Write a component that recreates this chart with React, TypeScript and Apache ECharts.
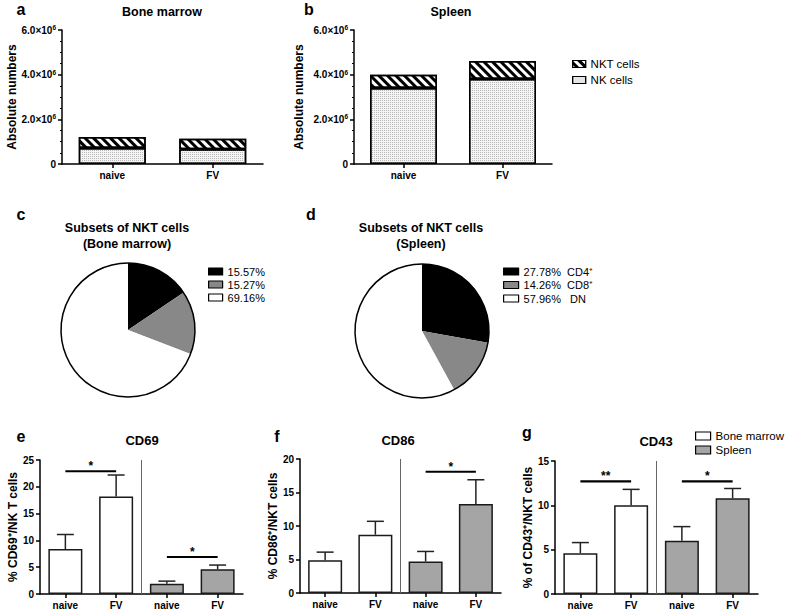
import React, { useEffect, useRef } from 'react';
import * as echarts from 'echarts';

const FONT = '"Liberation Sans", Arial, Helvetica, sans-serif';

// ---- Panels a / b : absolute numbers ----
const groupCats = ['naive', 'FV'];
const bmNK = [0.72e6, 0.66e6];
const bmNKT = [0.49e6, 0.47e6];
const spNK = [3.4e6, 3.81e6];
const spNKT = [0.6e6, 0.8e6];
const absTicks = { min: 0, max: 6e6, interval: 2e6 };

// ---- Panels c / d : NKT subsets ----
const subsetLabelsBM = ['15.57%', '15.27%', '69.16%'];
const subsetValuesBM = [15.57, 15.27, 69.16];
const subsetLabelsSP = ['27.78%  CD4⁺', '14.26%  CD8⁺', '57.96%   DN'];
const subsetValuesSP = [27.78, 14.26, 57.96];
const subsetColors = ['#000000', '#888888', '#ffffff'];

// ---- Panels e / f / g : activation markers ----
const markerCats = ['naive', 'FV', 'naive', 'FV'];
const cd69BM = [8.4, 18.2];
const cd69BMErr = [2.7, 4.0];
const cd69SP = [1.9, 4.6];
const cd69SPErr = [0.5, 0.8];
const cd69Sig = [[0, 1, 22.9, 1], [2, 3, 6.9, 1]];

const cd86BM = [4.9, 8.7];
const cd86BMErr = [1.2, 2.0];
const cd86SP = [4.7, 13.3];
const cd86SPErr = [1.5, 3.6];
const cd86Sig = [[2, 3, 18.1, 1]];

const cd43BM = [4.6, 10.0];
const cd43BMErr = [1.2, 1.8];
const cd43SP = [6.0, 10.8];
const cd43SPErr = [1.6, 1.1];
const cd43Sig = [[0, 1, 12.7, 2], [2, 3, 12.7, 1]];

const stripeDecal = {
  symbol: 'rect',
  symbolSize: 1,
  color: '#000',
  backgroundColor: '#fff',
  dashArrayX: [1, 0],
  dashArrayY: [2.6, 2.2],
  rotation: Math.PI / 4,
};
const dotDecal = {
  symbol: 'rect',
  symbolSize: 1,
  color: '#b8b8b8',
  backgroundColor: '#f5f5f5',
  dashArrayX: [1, 1],
  dashArrayY: [1, 1],
  rotation: 0,
};

const axisLine = { show: true, lineStyle: { color: '#000', width: 1.5 } };
const axisTick = { show: true, length: 4, lineStyle: { color: '#000', width: 1.5 } };
const boldLabel = (size: number, margin: number) => ({
  fontFamily: FONT,
  fontWeight: 'bold' as const,
  fontSize: size,
  color: '#000',
  margin,
});

function catAxis(gi: number, data: string[]) {
  return {
    gridIndex: gi,
    type: 'category',
    data,
    axisLine,
    axisTick: { ...axisTick, alignWithLabel: true },
    axisLabel: boldLabel(10, 6),
    splitLine: { show: false },
  };
}

function valAxis(gi: number, max: number, interval: number, name: string, nameGap: number, extraLabel?: any, minor?: boolean) {
  return {
    gridIndex: gi,
    type: 'value',
    min: 0,
    max,
    interval,
    axisLine,
    axisTick,
    minorTick: minor ? { show: true, splitNumber: 4, length: 2, lineStyle: { color: '#000', width: 1 } } : { show: false },
    splitLine: { show: false },
    axisLabel: { ...boldLabel(10, 6), ...(extraLabel || {}) },
    name,
    nameLocation: 'middle',
    nameGap,
    nameTextStyle: { fontFamily: FONT, fontWeight: 'bold', fontSize: 12, color: '#000' },
  };
}

const absLabel = {
  formatter: (v: number) => (v === 0 ? '{m|0}' : '{m|' + (v / 1e6).toFixed(1) + '×10}{s|6}'),
  rich: {
    m: { fontFamily: FONT, fontWeight: 'bold', fontSize: 10, color: '#000', lineHeight: 12 },
    s: { fontFamily: FONT, fontWeight: 'bold', fontSize: 6.5, color: '#000', verticalAlign: 'top', lineHeight: 8 },
  },
};

function errRender(params: any, api: any) {
  const c = api.value(0);
  const p0 = api.coord([c, api.value(1)]);
  const p1 = api.coord([c, api.value(2)]);
  const half = 8.5;
  const style = { stroke: '#222', lineWidth: 1.5 };
  return {
    type: 'group',
    children: [
      { type: 'line', shape: { x1: p0[0], y1: p0[1], x2: p1[0], y2: p1[1] }, style },
      { type: 'line', shape: { x1: p1[0] - half, y1: p1[1], x2: p1[0] + half, y2: p1[1] }, style },
    ],
  };
}

function sigRender(params: any, api: any) {
  const a = api.coord([api.value(0), api.value(2)]);
  const b = api.coord([api.value(1), api.value(2)]);
  const stars = '*'.repeat(api.value(3));
  return {
    type: 'group',
    children: [
      { type: 'line', shape: { x1: a[0], y1: a[1], x2: b[0], y2: b[1] }, style: { stroke: '#000', lineWidth: 2.2 } },
      {
        type: 'text',
        x: (a[0] + b[0]) / 2,
        y: a[1] - 5,
        style: { text: stars, textAlign: 'center', textVerticalAlign: 'middle', font: `bold 12px ${FONT}`, fill: '#000' },
      },
    ],
  };
}

function dividerRender(params: any, api: any) {
  const a = api.coord([api.value(0), 0]);
  const b = api.coord([api.value(1), 0]);
  const x = (a[0] + b[0]) / 2;
  const cs = params.coordSys;
  return {
    type: 'line',
    shape: { x1: x, y1: cs.y, x2: x, y2: cs.y + cs.height },
    style: { stroke: '#666', lineWidth: 1 },
  };
}

function markerSeries(gi: number, bm: number[], bmErr: number[], sp: number[], spErr: number[], sig: number[][]) {
  const errRows = [
    [0, bm[0], bm[0] + bmErr[0]],
    [1, bm[1], bm[1] + bmErr[1]],
    [2, sp[0], sp[0] + spErr[0]],
    [3, sp[1], sp[1] + spErr[1]],
  ];
  const border = { borderColor: '#1a1a1a', borderWidth: 1.5 };
  return [
    {
      type: 'bar', name: 'Bone marrow', xAxisIndex: gi, yAxisIndex: gi,
      data: [bm[0], bm[1], '-', '-'], barWidth: 34,
      itemStyle: { color: '#ffffff', ...border },
    },
    {
      type: 'bar', name: 'Spleen', xAxisIndex: gi, yAxisIndex: gi,
      data: ['-', '-', sp[0], sp[1]], barWidth: 34, barGap: '-100%',
      itemStyle: { color: '#a5a5a5', ...border },
    },
    {
      type: 'custom', xAxisIndex: gi, yAxisIndex: gi, data: errRows,
      encode: { x: 0, y: [1, 2] }, renderItem: errRender, z: 1, silent: true,
    },
    {
      type: 'custom', xAxisIndex: gi, yAxisIndex: gi, data: sig,
      encode: { x: [0, 1], y: 2 }, renderItem: sigRender, z: 4, silent: true,
    },
    {
      type: 'custom', xAxisIndex: gi, yAxisIndex: gi, data: [[1, 2, 0]],
      encode: { x: [0, 1], y: 2 }, renderItem: dividerRender, z: 1, silent: true,
    },
  ];
}

function pieSeries(center: number[], labels: string[], values: number[]) {
  return [
    {
      type: 'pie', center, radius: 67, startAngle: 90, clockwise: true, silent: true,
      label: { show: false }, labelLine: { show: false },
      itemStyle: { borderWidth: 0 },
      data: labels.map((n, i) => ({ name: n, value: values[i], itemStyle: { color: subsetColors[i] } })),
    },
    {
      type: 'pie', center, radius: 67, silent: true, z: 3,
      label: { show: false }, labelLine: { show: false },
      itemStyle: { color: 'rgba(0,0,0,0)', borderColor: '#000', borderWidth: 1.5 },
      data: [{ name: 'outline', value: 1 }],
    },
  ];
}

const txt = (text: string, x: number, y: number, size: number, bold = true) => ({
  type: 'text',
  x,
  y,
  style: {
    text,
    textAlign: 'center',
    textVerticalAlign: 'middle',
    font: `${bold ? 'bold ' : ''}${size}px ${FONT}`,
    fill: '#000',
  },
});

const legendBase = {
  orient: 'vertical',
  icon: 'rect',
  padding: 0,
  selectedMode: false,
  textStyle: { fontFamily: FONT, color: '#000', fontSize: 11.5 },
  itemStyle: { borderColor: '#000', borderWidth: 1.2 },
};

function buildOption(): any {
  return {
    animation: false,
    backgroundColor: '#fff',
    textStyle: { fontFamily: FONT },
    grid: [
      { left: 62, top: 30, width: 201, height: 134 },
      { left: 354, top: 30, width: 198, height: 134 },
      { left: 40, top: 460, width: 203, height: 134 },
      { left: 300, top: 459, width: 201, height: 134 },
      { left: 555, top: 461, width: 203, height: 133 },
    ],
    xAxis: [
      catAxis(0, groupCats),
      catAxis(1, groupCats),
      catAxis(2, markerCats),
      catAxis(3, markerCats),
      catAxis(4, markerCats),
    ],
    yAxis: [
      valAxis(0, absTicks.max, absTicks.interval, 'Absolute numbers', 41, absLabel, true),
      valAxis(1, absTicks.max, absTicks.interval, 'Absolute numbers', 49, absLabel, true),
      valAxis(2, 25, 5, '% CD69⁺/NK T cells', 20),
      valAxis(3, 20, 5, '% CD86⁺/NKT cells', 20),
      valAxis(4, 15, 5, '% of CD43⁺/NKT cells', 19),
    ],
    legend: [
      { ...legendBase, left: 572, top: 58, itemWidth: 13, itemHeight: 7, itemGap: 4, data: ['NKT cells', 'NK cells'] },
      { ...legendBase, left: 208, top: 266, itemWidth: 14, itemHeight: 7, itemGap: 2, textStyle: { ...legendBase.textStyle, fontSize: 11 }, data: subsetLabelsBM },
      { ...legendBase, left: 503, top: 266, itemWidth: 15, itemHeight: 7, itemGap: 2.5, textStyle: { ...legendBase.textStyle, fontSize: 11 }, data: subsetLabelsSP },
      { ...legendBase, left: 695, top: 430, itemWidth: 15, itemHeight: 8, itemGap: 2, data: ['Bone marrow', 'Spleen'] },
    ],
    series: [
      {
        type: 'bar', name: 'NK cells', xAxisIndex: 0, yAxisIndex: 0, stack: 'bm', barWidth: 67, data: bmNK,
        itemStyle: { color: '#f5f5f5', borderColor: '#000', borderWidth: 1.5, decal: dotDecal },
      },
      {
        type: 'bar', name: 'NKT cells', xAxisIndex: 0, yAxisIndex: 0, stack: 'bm', barWidth: 67, data: bmNKT,
        itemStyle: { color: '#fff', borderColor: '#000', borderWidth: 1.5, decal: stripeDecal },
      },
      {
        type: 'bar', name: 'NK cells', xAxisIndex: 1, yAxisIndex: 1, stack: 'sp', barWidth: 67, data: spNK,
        itemStyle: { color: '#f5f5f5', borderColor: '#000', borderWidth: 1.5, decal: dotDecal },
      },
      {
        type: 'bar', name: 'NKT cells', xAxisIndex: 1, yAxisIndex: 1, stack: 'sp', barWidth: 67, data: spNKT,
        itemStyle: { color: '#fff', borderColor: '#000', borderWidth: 1.5, decal: stripeDecal },
      },
      ...pieSeries([128, 330], subsetLabelsBM, subsetValuesBM),
      ...pieSeries([422, 331], subsetLabelsSP, subsetValuesSP),
      ...markerSeries(2, cd69BM, cd69BMErr, cd69SP, cd69SPErr, cd69Sig),
      ...markerSeries(3, cd86BM, cd86BMErr, cd86SP, cd86SPErr, cd86Sig),
      ...markerSeries(4, cd43BM, cd43BMErr, cd43SP, cd43SPErr, cd43Sig),
    ],
    graphic: [
      txt('a', 21, 9.5, 16),
      txt('b', 309, 9.5, 16),
      txt('c', 21, 214.5, 16),
      txt('d', 311, 214.5, 16),
      txt('e', 21, 436.5, 16),
      txt('f', 277, 436.5, 16),
      txt('g', 527, 432.5, 16),
      txt('Bone marrow', 162, 12, 12.5),
      txt('Spleen', 451, 12, 12.5),
      txt('Subsets of NKT cells', 127, 228, 12.5),
      txt('(Bone marrow)', 127, 244, 12.5),
      txt('Subsets of NKT cells', 421, 228, 12.5),
      txt('(Spleen)', 421, 244, 12.5),
      txt('CD69', 142, 440, 13),
      txt('CD86', 398, 440, 13),
      txt('CD43', 656, 441, 13),
    ],
  };
}

export default function App() {
  const ref = useRef<HTMLDivElement>(null);
  useEffect(() => {
    if (!ref.current) return;
    const chart = echarts.init(ref.current, null, { renderer: 'svg' });
    chart.setOption(buildOption());
    return () => chart.dispose();
  }, []);
  return (
    <div
      ref={ref}
      style={{ position: 'absolute', left: 0, top: 0, width: 785, height: 613, background: '#fff' }}
    />
  );
}
